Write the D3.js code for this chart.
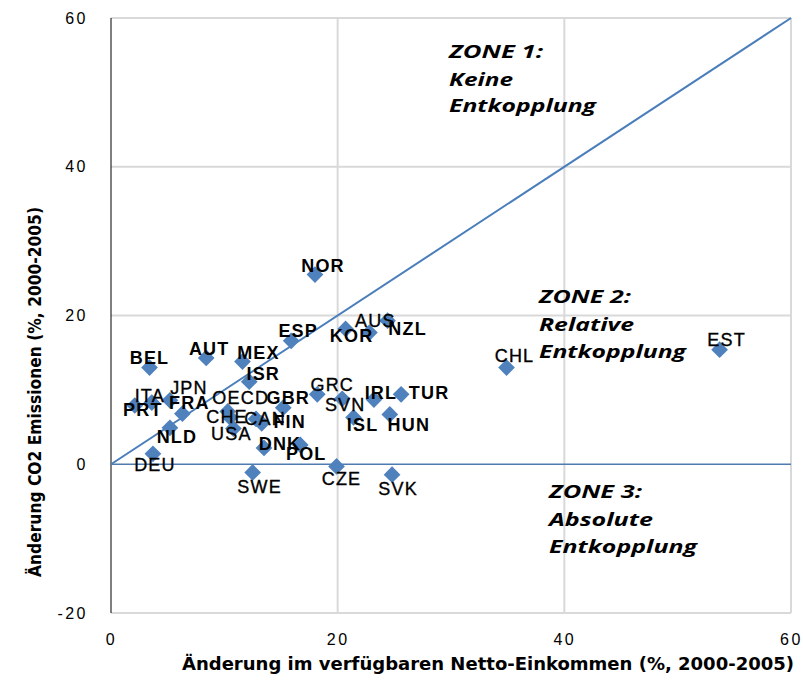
<!DOCTYPE html>
<html>
<head>
<meta charset="utf-8">
<script src="https://cdn.jsdelivr.net/npm/d3@7"></script>
<style>
  html, body { margin: 0; padding: 0; background: #fff; }
  svg { display: block; }
</style>
</head>
<body>
<script>
// ---------------- DATA ----------------
const countries = ["NOR","BEL","AUT","MEX","ISR","ESP","KOR","AUS","NZL","GRC","SVN","IRL","TUR","ISL","HUN","CHL","EST","CZE","SVK","SWE","DNK","POL","DEU","NLD","PRT","ITA","JPN","FRA","OECD","GBR","CHE","CAN","FIN","USA"];
const incomeChange = [18.0, 3.4, 8.4, 11.6, 12.2, 15.9, 20.7, 22.8, 24.4, 18.2, 20.4, 23.2, 25.6, 21.4, 24.6, 34.9, 53.7, 19.9, 24.8, 12.5, 13.5, 16.7, 3.7, 5.2, 2.1, 3.6, 5.2, 6.3, 10.3, 15.2, 10.5, 12.8, 13.3, 10.8];
const co2Change    = [25.5, 13.0, 14.3, 13.8, 11.1, 16.6, 18.2, 17.7, 19.3, 9.4, 8.8, 8.7, 9.4, 6.3, 6.7, 13.0, 15.4, -0.3, -1.4, -1.1, 2.2, 2.6, 1.4, 4.9, 7.9, 8.3, 8.6, 6.8, 7.1, 7.6, 6.3, 6.1, 5.5, 4.8];
const xTicks = [0, 20, 40, 60];
const yTicks = [-20, 0, 20, 40, 60];
const xTitle = "Änderung im verfügbaren Netto-Einkommen (%, 2000-2005)";
const yTitle = "Änderung CO2 Emissionen (%, 2000-2005)";
const zone1 = ["ZONE 1:", "Keine", "Entkopplung"];
const zone2 = ["ZONE 2:", "Relative", "Entkopplung"];
const zone3 = ["ZONE 3:", "Absolute", "Entkopplung"];
const parityLine = [0, 60]; // 1:1 reference line (y = x)

// ---------------- LAYOUT / STYLE ----------------
const W = 803, H = 686;
const plot = { left: 111, right: 791, top: 18, bottom: 613 };
const blue = "#4a7ebb";
const gridColor = "#d9d9d9";
// label offsets (px) from marker centre
const labelOffset = {
  NOR:[8,-9], BEL:[0,-10], AUT:[3,-9], MEX:[16,-9], ISR:[14,-8], ESP:[7,-10],
  KOR:[6,7], AUS:[6,-12], NZL:[20,8], GRC:[15,-9], SVN:[3,6], IRL:[7,-7],
  TUR:[28,-1], ISL:[9,8], HUN:[19,11], CHL:[8,-12], EST:[7,-10], CZE:[5,13],
  SVK:[6,14], SWE:[7,15], DNK:[16,-4], POL:[6,9], DEU:[2,11], NLD:[7,9],
  PRT:[8,5], ITA:[-2,-7], JPN:[19,-12], FRA:[7,-11], OECD:[13,-13], GBR:[5,-10],
  CHE:[-3,0], CAN:[9,0], FIN:[28,-1], USA:[-2,5]
};
const boldLabels = new Set(["BEL","AUT","MEX","PRT","NLD","FRA","ISR","ESP","KOR","NZL","NOR","IRL","TUR","ISL","HUN","POL","DNK","FIN","GBR"]);

const x = d3.scaleLinear().domain([0, 60]).range([plot.left, plot.right]);
const y = d3.scaleLinear().domain([-20, 60]).range([plot.bottom, plot.top]);

const svg = d3.select("body").append("svg").attr("width", W).attr("height", H);

// gridlines
svg.append("g").selectAll("line.v").data(xTicks.filter(d => d !== 0)).join("line")
  .attr("x1", d => x(d)).attr("x2", d => x(d))
  .attr("y1", y(-20)).attr("y2", y(60))
  .attr("stroke", gridColor).attr("stroke-width", 2);
svg.append("g").selectAll("line.h").data(yTicks.filter(d => d !== 0)).join("line")
  .attr("x1", x(0)).attr("x2", x(60))
  .attr("y1", d => y(d)).attr("y2", d => y(d))
  .attr("stroke", gridColor).attr("stroke-width", 2);

// left (vertical) axis line
svg.append("line")
  .attr("x1", x(0)).attr("x2", x(0)).attr("y1", y(60)).attr("y2", y(-20))
  .attr("stroke", "#000").attr("stroke-width", 1);

// horizontal axis at zero
svg.append("line")
  .attr("x1", x(0)).attr("x2", x(60)).attr("y1", y(0)).attr("y2", y(0))
  .attr("stroke", "#4f7cb0").attr("stroke-width", 1.3);

// 1:1 line
svg.append("path")
  .datum(parityLine)
  .attr("d", d3.line().x(d => x(d)).y(d => y(d)))
  .attr("stroke", blue).attr("stroke-width", 2).attr("fill", "none");

// tick labels
const tickFont = "'Liberation Sans', Arial, sans-serif";
const yAxis = svg.append("g").attr("transform", `translate(${x(0)},0)`)
  .call(d3.axisLeft(y).tickValues(yTicks).tickSize(0).tickPadding(23).tickFormat(d => String(d)));
yAxis.select(".domain").remove();
yAxis.selectAll("text").attr("font-family", tickFont).attr("font-size", 16)
  .attr("letter-spacing", "2.5px").attr("fill", "#000");

const xAxis = svg.append("g").attr("transform", `translate(0,${y(-20)})`)
  .call(d3.axisBottom(x).tickValues(xTicks).tickSize(0).tickPadding(21).tickFormat(d => String(d)));
xAxis.select(".domain").remove();
xAxis.selectAll("text").attr("font-family", tickFont).attr("font-size", 16)
  .attr("letter-spacing", "2.5px").attr("fill", "#000");

// axis titles
const titleFont = "'Liberation Sans Narrow', 'DejaVu Sans Condensed', 'Liberation Sans', sans-serif";
svg.append("text")
  .attr("x", 488).attr("y", 670)
  .attr("text-anchor", "middle")
  .attr("font-family", titleFont).attr("font-weight", "bold").attr("font-size", 18)
  .attr("textLength", 612).attr("lengthAdjust", "spacingAndGlyphs")
  .text(xTitle);
svg.append("text")
  .attr("transform", "translate(41,392) rotate(-90)")
  .attr("text-anchor", "middle")
  .attr("font-family", titleFont).attr("font-weight", "bold").attr("font-size", 17)
  .attr("textLength", 370).attr("lengthAdjust", "spacingAndGlyphs")
  .text(yTitle);

// zone annotations
const zoneFont = "'Open Sans', 'DejaVu Sans', sans-serif";
function zone(lines, x0, baselines, widths) {
  svg.append("g").selectAll("text").data(lines).join("text")
    .attr("x", x0).attr("y", (d, i) => baselines[i])
    .attr("font-family", zoneFont).attr("font-style", "italic").attr("font-weight", "bold")
    .attr("font-size", 18).attr("fill", "#000")
    .attr("textLength", (d, i) => widths[i]).attr("lengthAdjust", "spacingAndGlyphs")
    .text(d => d);
}
zone(zone1, 449, [58, 86, 112], [94, 64, 147]);
zone(zone2, 539, [303, 331, 358], [92, 95, 147]);
zone(zone3, 549, [498, 526, 553], [93, 104, 148]);

// points
const pts = countries.map((c, i) => ({ c, xv: incomeChange[i], yv: co2Change[i] }));
svg.append("g").selectAll("path").data(pts).join("path")
  .attr("transform", d => `translate(${x(d.xv)},${y(d.yv)}) rotate(45)`)
  .attr("d", d3.symbol(d3.symbolSquare, 140)())
  .attr("fill", "#4f81bd");

// labels
svg.append("g").selectAll("text").data(pts).join("text")
  .attr("x", d => x(d.xv) + labelOffset[d.c][0])
  .attr("y", d => y(d.yv) + labelOffset[d.c][1])
  .attr("text-anchor", "middle").attr("dominant-baseline", "central")
  .attr("font-family", tickFont).attr("font-size", 18)
  .attr("font-weight", d => boldLabels.has(d.c) ? "bold" : "normal")
  .attr("stroke", d => boldLabels.has(d.c) ? "none" : "#000")
  .attr("stroke-width", 0.35)
  .attr("letter-spacing", "1.2px").attr("fill", "#000")
  .text(d => d.c);
</script>
</body>
</html>
